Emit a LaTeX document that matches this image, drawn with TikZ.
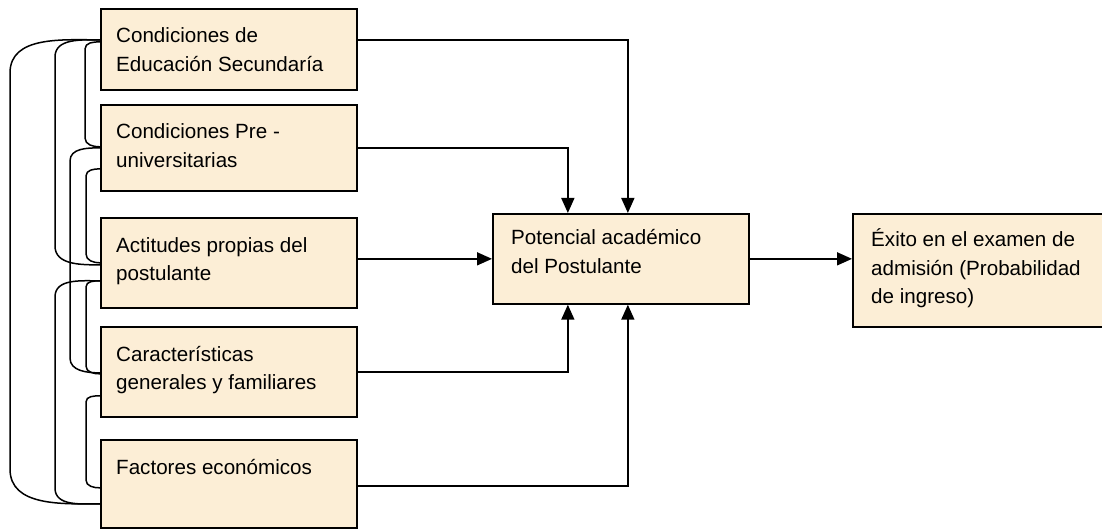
\documentclass[tikz,border=0pt]{standalone}
\usepackage{fontspec}
\setmainfont{Liberation Sans}
\usetikzlibrary{arrows.meta}
\definecolor{boxfill}{RGB}{252,238,214}
\tikzset{
  box/.style={draw=black, line width=1.7pt, fill=boxfill, rectangle, inner sep=0pt, anchor=north west},
  txt/.style={inner sep=0pt, anchor=base west, font=\fontsize{20.6pt}{28.5pt}\selectfont},
  conn/.style={draw=black, line width=1.6pt, -{Triangle[length=15pt,width=13pt]}},
  brk/.style={draw=black, line width=1.5pt}
}
\newcommand{\tb}[1]{\parbox[t]{250pt}{\raggedright #1}}
\begin{document}
\begin{tikzpicture}[x=1pt,y=-1pt]
\useasboundingbox (0,0) rectangle (1102,529);
% boxes
\node[box, minimum width=256pt, minimum height=81pt] (b1) at (100,8) {};
\node[box, minimum width=256pt, minimum height=86pt] (b2) at (100,104) {};
\node[box, minimum width=256pt, minimum height=90pt] (b3) at (100,217) {};
\node[box, minimum width=256pt, minimum height=90pt] (b4) at (100,326) {};
\node[box, minimum width=256pt, minimum height=88pt] (b5) at (100,439) {};
\node[box, minimum width=256pt, minimum height=90pt] (c) at (492,213) {};
\node[box, minimum width=254pt, minimum height=113pt] (r) at (852,213) {};
% texts
\node[txt] (t1) at ([xshift=16pt,yshift=-35pt]b1.north west) {\tb{Condiciones de\\Educación Secundaría}};
\node[txt] (t2) at ([xshift=16pt,yshift=-35pt]b2.north west) {\tb{Condiciones Pre -\\universitarias}};
\node[txt] (t3) at ([xshift=16pt,yshift=-35pt]b3.north west) {\tb{Actitudes propias del\\postulante}};
\node[txt] (t4) at ([xshift=16pt,yshift=-35pt]b4.north west) {\tb{Características\\generales y familiares}};
\node[txt] (t5) at ([xshift=16pt,yshift=-35pt]b5.north west) {\tb{Factores económicos}};
\node[txt] (tc) at ([xshift=19pt,yshift=-32pt]c.north west) {\tb{Potencial académico\\del Postulante}};
\node[txt] (tr) at ([xshift=19pt,yshift=-34pt]r.north west) {\tb{Éxito en el examen de\\admisión (Probabilidad\\de ingreso)}};
% arrows
\draw[conn] ([yshift=9.5pt]b1.east) -| ([xshift=7pt]c.north);
\draw[conn] (b2.east) -| ([xshift=-53pt]c.north);
\draw[conn] (b3.east |- c.west) -- (c.west);
\draw[conn] (b4.east) -| ([xshift=-53pt]c.south);
\draw[conn] ([yshift=-2pt]b5.east) -| ([xshift=7pt]c.south);
\draw[conn] (c.east) -- (r.west |- c.east);
% brackets on the left
\draw[brk] ([yshift=9.5pt]b1.west) to[out=180,in=90] (10,73) -- (10,469) to[out=-90,in=180] ([yshift=-20pt]b5.west);
\draw[brk] ([yshift=9.5pt]b1.west) to[out=180,in=90] (55,57) -- (55,246) to[out=-90,in=180] ([yshift=-2pt]b3.west);
\draw[brk] ([yshift=7.5pt]b1.west) to[out=180,in=90] (85,49) -- (85,138) to[out=-90,in=180] ([yshift=1pt]b2.west);
\draw[brk] (b2.west) to[out=180,in=90] (70,161) -- (70,358) to[out=-90,in=180] ([yshift=-1pt]b4.west);
\draw[brk] ([yshift=-21pt]b2.west) to[out=180,in=90] (86,176) -- (86,254) to[out=-90,in=180] (b3.west);
\draw[brk] ([yshift=-18pt]b3.west) to[out=180,in=90] (55,297) -- (55,488) to[out=-90,in=180] ([yshift=-20pt]b5.west);
\draw[brk] ([yshift=-18pt]b3.west) to[out=180,in=90] (86,287) -- (86,366) to[out=-90,in=180] ([yshift=-2pt]b4.west);
\draw[brk] ([yshift=-24pt]b4.west) to[out=180,in=90] (86,402) -- (86,480) to[out=-90,in=180] ([yshift=-4pt]b5.west);
\end{tikzpicture}
\end{document}
